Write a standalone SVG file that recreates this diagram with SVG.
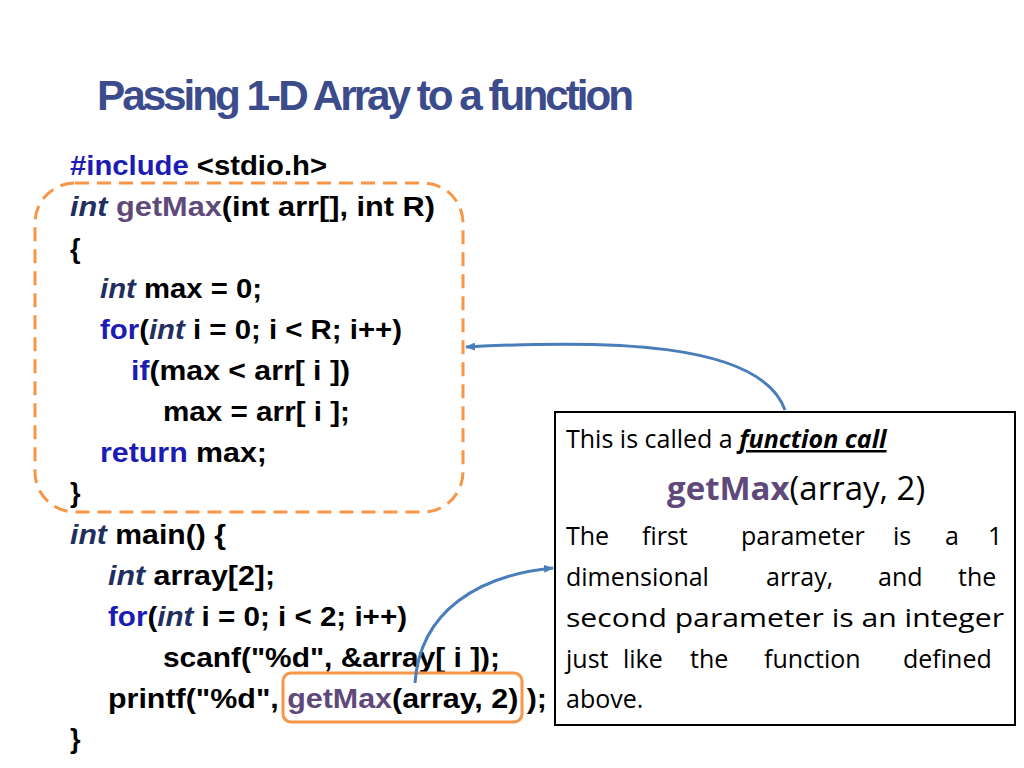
<svg xmlns="http://www.w3.org/2000/svg" width="1024" height="768" viewBox="0 0 1024 768">
<style>
.c{font-family:"Liberation Sans",Arial,sans-serif;font-weight:bold;font-size:27px;fill:#000}
.k{fill:#1c1cb4}.i{font-style:italic;fill:#1f3060}.g{fill:#5f497a}
.b{font-family:"Open Sans","DejaVu Sans",sans-serif;font-size:25px;fill:#000}
</style>
<defs><marker id="a" markerWidth="10" markerHeight="8" refX="9" refY="4" orient="auto" markerUnits="userSpaceOnUse"><path d="M0,0L10,4L0,8z" fill="#4a7ebb"/></marker></defs>
<rect width="1024" height="768" fill="#fff"/>
<text x="97" y="110" font-family="Liberation Sans,Arial,sans-serif" font-weight="bold" font-size="42" fill="#3b4b8c" textLength="534" lengthAdjust="spacingAndGlyphs" letter-spacing="-3">Passing 1-D Array to a function</text>
<g id="code">
<text class="c" x="70" y="175" textLength="257" lengthAdjust="spacingAndGlyphs"><tspan class="k">#include</tspan> &lt;stdio.h&gt;</text>
<text class="c" x="70" y="216" textLength="365" lengthAdjust="spacingAndGlyphs"><tspan class="i">int</tspan> <tspan class="g">getMax</tspan>(int arr[], int R)</text>
<text class="c" x="70" y="258">{</text>
<text class="c" x="100" y="298" textLength="162" lengthAdjust="spacingAndGlyphs"><tspan class="i">int</tspan> max = 0;</text>
<text class="c" x="100" y="339" textLength="302" lengthAdjust="spacingAndGlyphs"><tspan class="k">for</tspan>(<tspan class="i">int</tspan> i = 0; i &lt; R; i++)</text>
<text class="c" x="131" y="380" textLength="219" lengthAdjust="spacingAndGlyphs"><tspan class="k">if</tspan>(max &lt; arr[ i ])</text>
<text class="c" x="163" y="421" textLength="187" lengthAdjust="spacingAndGlyphs">max = arr[ i ];</text>
<text class="c" x="100" y="462" textLength="167" lengthAdjust="spacingAndGlyphs"><tspan class="k">return</tspan> max;</text>
<text class="c" x="70" y="502">}</text>
<text class="c" x="70" y="544" textLength="156" lengthAdjust="spacingAndGlyphs"><tspan class="i">int</tspan> main() {</text>
<text class="c" x="108" y="585" textLength="167" lengthAdjust="spacingAndGlyphs"><tspan class="i">int</tspan> array[2];</text>
<text class="c" x="108" y="626" textLength="299" lengthAdjust="spacingAndGlyphs"><tspan class="k">for</tspan>(<tspan class="i">int</tspan> i = 0; i &lt; 2; i++)</text>
<text class="c" x="163" y="667" textLength="337" lengthAdjust="spacingAndGlyphs">scanf("%d", &amp;array[ i ]);</text>
<text class="c" x="108" y="708" textLength="439" lengthAdjust="spacingAndGlyphs">printf("%d", <tspan class="g">getMax</tspan>(array, 2) );</text>
<text class="c" x="70" y="748">}</text>
</g>
<g id="highlights" fill="none" stroke="#f79646" stroke-width="3">
<rect x="35" y="183" width="428" height="329" rx="40" stroke-dasharray="14 8"/>
<rect x="283" y="673" width="239" height="49" rx="8"/>
</g>
<g id="note">
<rect x="555" y="412" width="460" height="313" fill="#fff" stroke="#000" stroke-width="2"/>
<text class="b" x="566" y="448">This is called a <tspan font-weight="bold" font-style="italic" text-decoration="underline">function call</tspan></text>
<text x="667" y="500" font-family="Open Sans,DejaVu Sans,sans-serif" font-size="33"><tspan font-weight="bold" fill="#5f497a">getMax</tspan>(array, 2)</text>
<text class="b" y="545"><tspan x="566">The</tspan><tspan x="642">first</tspan><tspan x="741">parameter</tspan><tspan x="893">is</tspan><tspan x="945">a</tspan><tspan x="988">1</tspan></text>
<text class="b" y="586"><tspan x="566">dimensional</tspan><tspan x="766">array,</tspan><tspan x="878">and</tspan><tspan x="958">the</tspan></text>
<text class="b" x="566" y="627" textLength="438" lengthAdjust="spacingAndGlyphs">second parameter is an integer</text>
<text class="b" y="668"><tspan x="566">just</tspan><tspan x="623">like</tspan><tspan x="690">the</tspan><tspan x="764">function</tspan><tspan x="903">defined</tspan></text>
<text class="b" x="566" y="708">above.</text>
</g>
<g id="connectors" fill="none" stroke="#4a7ebb" stroke-width="3" marker-end="url(#a)">
<path d="M785,410C760,340 600,340 466,347"/>
<path d="M415,683C420,610 480,575 553,568"/>
</g>
</svg>
